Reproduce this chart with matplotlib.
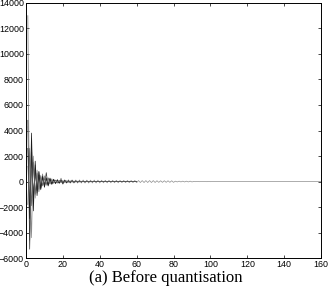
import numpy as np
from matplotlib import pyplot as plt

# coefficient traces (index starts at 1)
s1 = [13000, -4600, 2900, -1700, 1300, -900, 750, -520, 600, -400,
      320, -260, 280, -200, 150, -170, 120, -100, 260, -140,
      90, -80, 70, -60, 80, -50, 40, -45, 35, -30,
      30, -25, 40, -20, 25, -20, 15, -18, 20, -15,
      12, -10, 15, -12, 10, -8, 12, -10, 8, -6,
      10, -8, 6, -5, 8, -6, 5, -4, 6, -5]
s2 = [4800, -5300, 2300, -1400, 1000, -700, 500, -650, 420, -300,
      700, -350, 250, -220, 180, -150, 130, -110, 100, -200,
      110, -90, 60, -70, 50, -55, 45, -35, 40, -30,
      25, -30, 20, -25, 18, -15, 22, -12, 15, -10,
      10, -12, 8, -10, 9, -7, 6, -8, 7, -5,
      6, -5, 8, -4, 5, -6, 4, -3, 5, -4]
s3 = [4300, 1200, -4400, 2000, -1300, 900, -600, 500, -350, 450,
      -300, 250, -200, 220, -150, 120, -130, 100, -90, 80,
      -70, 60, -50, 55, -45, 40, -35, 30, -30, 25,
      -20, 22, -18, 15, -20, 12, -10, 14, -9, 10,
      -8, 9, -7, 8, -6, 7, -5, 6, -6, 5,
      -4, 5, -4, 4, -3, 4, -3, 3, -3, 2]
s4 = [2600, -2900, 3800, -2300, 1600, -1100, 800, -550, 380, -450,
      250, -300, 180, -160, 140, -120, 90, -110, 70, -60,
      55, -60, 45, -40, 50, -35, 30, -28, 25, -22,
      20, -18, 25, -15, 14, -16, 12, -10, 11, -9,
      8, -7, 9, -6, 7, -5, 6, -5, 4, -4,
      5, -3, 4, -3, 3, -3, 2, -2, 3, -2]
s5 = [-1800, 2600, -1900, 1500, -1000, 650, -800, 400, -300, 250,
      -200, 300, -180, 130, -100, 90, -80, 70, -60, 50,
      -45, 40, -35, 30, -28, 25, -22, 20, -18, 16,
      -14, 12, -12, 10, -9, 8, -8, 7, -6, 6,
      -5, 5, -4, 4, -4, 3, -3, 3, -2, 2,
      -2, 2, -2, 1, -1, 1, -1, 1, -1, 0]
s6 = [1200, -1500, 900, -700, 500, -400, 350, -250, 300, -200,
      250, -220, 200, -190, 180, -170, 160, -150, 145, -140,
      135, -130, 140, -125, 130, -122, 120, -118, 125, -115,
      120, -114, 112, -115, 110, -112, 114, -109, 110, -108,
      102, -100, 98, -99, 100, -97, 98, -96, 99, -98,
      87, -86, 88, -85, 86, -87, 85, -84, 86, -85,
      78, -76, 75, -77, 76, -74, 75, -75, 74, -73,
      66, -64, 63, -64, 65, -63, 64, -62, 63, -63,
      32, -32, 33, -31, 32, -32, 31, -31, 32, -31,
      11, -11, 11, -12, 11, 10, 11, -11, 11, -10,
      5, -6, 5, 6, -5, 5, 6, 5, -6, 5,
      0, -1, 0, 1, 0, -1, 1, 0, 0, -1,
      0, 1, 0, -1, 0, 0, 1, 0, -1, 0,
      0, 1, 0, 0, -1, 0, 0, 1, 0, 0,
      0, 0, -1, 0, 0, 1, 0, 0, 0, -1,
      0, 0, 0, 1, 0, 0, 0, 0, 0, 0]

series = [s6, s1, s2, s3, s4, s5]
colours = ['0.55', '0.45', '0.2', '0.55', '0.1', '0.4']

fig = plt.figure(figsize=(3.29, 2.91), dpi=100)
ax = fig.add_axes([0.079, 0.113, 0.897, 0.877])
for s, c in zip(series, colours):
    x = np.arange(1, len(s) + 1)
    ax.plot(x, s, color=c, lw=0.5)

ax.set_xlim(0, 160)
ax.set_ylim(-6000, 14000)
ax.set_xticks(range(0, 161, 20))
ax.set_yticks(range(-6000, 14001, 2000))
ax.tick_params(direction='in', top=True, right=True, length=2.5, width=0.5,
               labelsize=6.4, pad=1.5)
for lab in ax.get_xticklabels() + ax.get_yticklabels():
    lab.set_family('Liberation Sans')
for sp in ax.spines.values():
    sp.set_linewidth(0.7)

fig.text(0.505, 0.043, '(a) Before quantisation', ha='center', va='center',
         family='Liberation Serif', fontsize=12)

plt.savefig('out.png', dpi=100)
